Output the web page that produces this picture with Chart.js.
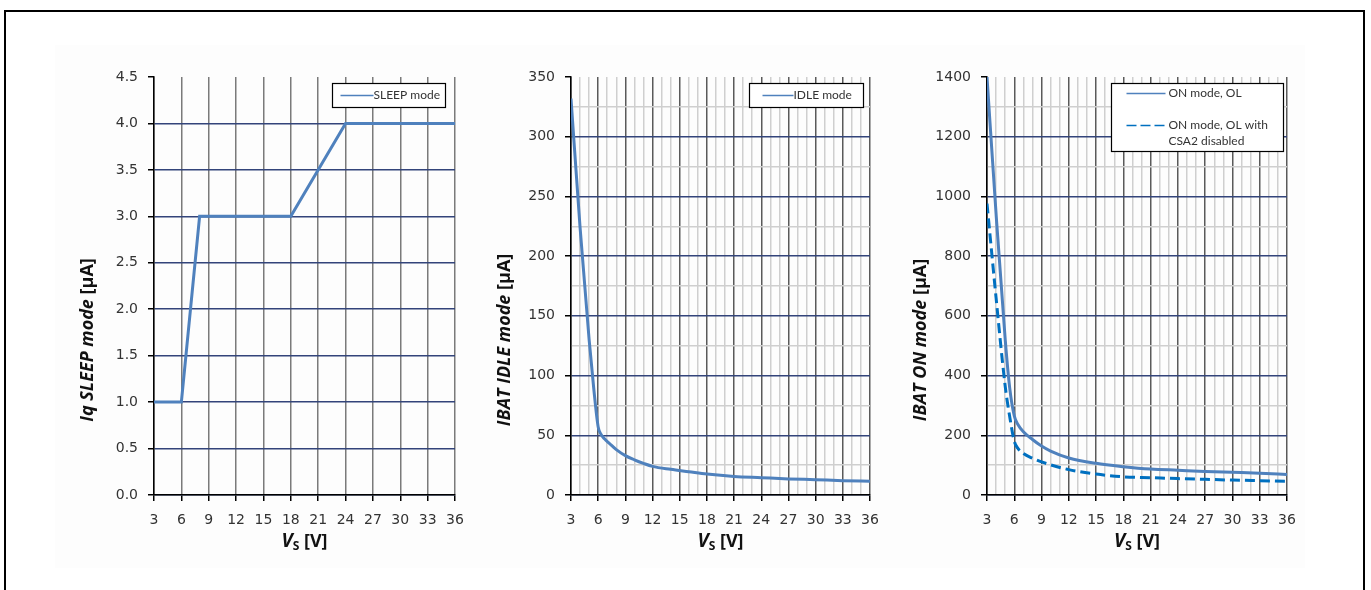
<!DOCTYPE html>
<html>
<head>
<meta charset="utf-8">
<script src="https://cdn.jsdelivr.net/npm/chart.js@4.4.1/dist/chart.umd.min.js"></script>
<style>
html, body { margin: 0; padding: 0; background: #fff; }
body { width: 1371px; height: 590px; position: relative; overflow: hidden; }
#frame { position: absolute; left: 4px; top: 10px; width: 1357px; height: 600px; border: 2px solid #000; }
#panel { position: absolute; left: 55px; top: 45px; width: 1250px; height: 523px; background: #fdfdfd; }
canvas { position: absolute; top: 40px; }
</style>
</head>
<body>
<div id="frame"></div>
<div id="panel"></div>
<canvas id="sleepChart" width="440" height="530" style="left:40px"></canvas>
<canvas id="idleChart" width="440" height="530" style="left:470px"></canvas>
<canvas id="onChart" width="440" height="530" style="left:900px"></canvas>
<script>
// supply voltage V_S [V] and currents
var sleepVs = [3, 6, 8, 18, 24, 36];
var sleepIq = [1.0, 1.0, 3.0, 3.0, 4.0, 4.0];

var idleVs = [3, 4, 5, 5.5, 6, 6.3, 6.7, 7.2, 8, 9, 10, 11, 12, 14, 16, 18, 21, 24, 27, 30, 33, 36];
var idleI  = [332, 224, 130, 90, 57, 51, 47, 43.5, 38, 33, 29.5, 26.5, 24, 21.5, 19.5, 17.5, 15.5, 14.5, 13.5, 12.8, 12, 11.5];

var onVs = [3, 4, 5, 5.5, 6, 6.4, 7, 8, 9, 10, 12, 15, 18, 21, 24, 27, 30, 33, 36];
var onI  = [1400, 941, 522, 358, 265, 236, 212, 186, 164, 147, 124, 106, 95, 87, 83, 79, 76, 73, 69];

var csaVs = [3, 4, 5, 5.5, 6, 6.4, 7, 8, 9, 10, 12, 15, 18, 21, 24, 27, 30, 33, 36];
var csaI  = [976, 660, 365, 262, 180, 156, 139, 123, 111, 101, 85, 70, 61, 58, 55, 52.5, 50, 48, 46];

function pts(xs, ys) {
    return xs.map(function (x, i) { return { x: x, y: ys[i] }; });
}

const TICK_FONT = { family: 'DejaVu Sans', size: 14 };
const TITLE_FAMILY = '"Open Sans"';

// axis titles drawn by hand: mixed italic / upright and a subscript
const titlesPlugin = {
    id: 'titles',
    afterDraw(chart, args, o) {
        const ctx = chart.ctx, a = chart.chartArea;
        function drawParts(parts) {
            let total = 0;
            parts.forEach(function (p) { ctx.font = p.font; total += ctx.measureText(p.t).width; });
            let x = -total / 2;
            parts.forEach(function (p) {
                ctx.font = p.font;
                ctx.fillText(p.t, x, p.dy || 0);
                x += ctx.measureText(p.t).width;
            });
        }
        ctx.save();
        ctx.fillStyle = '#111';
        ctx.textBaseline = 'middle';
        ctx.textAlign = 'left';
        ctx.save();
        ctx.translate(a.left - 66, a.top + 263);
        ctx.rotate(-Math.PI / 2);
        drawParts([
            { t: o.yText + ' ', font: 'italic bold 18px ' + TITLE_FAMILY },
            { t: '[µA]', font: 'bold 18px ' + TITLE_FAMILY }
        ]);
        ctx.restore();
        ctx.translate((a.left + a.right) / 2, a.bottom + 47);
        drawParts([
            { t: 'V', font: 'italic bold 19px ' + TITLE_FAMILY },
            { t: 'S', font: 'bold 12px ' + TITLE_FAMILY, dy: 5 },
            { t: ' [V]', font: 'bold 18px ' + TITLE_FAMILY }
        ]);
        ctx.restore();
    }
};

// boxed legend sitting inside the plot, top right
const boxLegend = {
    id: 'boxLegend',
    afterDraw(chart, args, o) {
        const ctx = chart.ctx, a = chart.chartArea;
        const x0 = Math.round(a.right - o.right - o.width) + 0.5;
        const y0 = Math.round(a.top + o.top) + 0.5;
        ctx.save();
        ctx.fillStyle = '#fff';
        ctx.fillRect(x0, y0, o.width, o.height);
        ctx.strokeStyle = '#000';
        ctx.lineWidth = 1.2;
        ctx.strokeRect(x0, y0, o.width, o.height);
        ctx.font = '12px Lato';
        ctx.textBaseline = 'middle';
        ctx.fillStyle = '#333';
        chart.data.datasets.forEach(function (ds, i) {
            const y = y0 + o.rows[i];
            ctx.strokeStyle = ds.borderColor;
            ctx.lineWidth = 1.5;
            ctx.setLineDash(ds.borderDash ? [10, 4] : []);
            ctx.beginPath();
            ctx.moveTo(x0 + o.lineStart, y);
            ctx.lineTo(x0 + o.lineEnd, y);
            ctx.stroke();
            ctx.setLineDash([]);
            // wrap label words to the box
            const words = ds.label.split(' ');
            let lines = [], cur = '';
            words.forEach(function (w) {
                const test = cur ? cur + ' ' + w : w;
                if (cur && ctx.measureText(test).width > o.wrap) { lines.push(cur); cur = w; }
                else cur = test;
            });
            lines.push(cur);
            lines.forEach(function (l, k) { ctx.fillText(l, x0 + o.textX, y + k * 16); });
        });
        ctx.restore();
    }
};

function makeChart(id, c) {
    const navy = '#33447a', minor = '#cfcfcf';
    return new Chart(document.getElementById(id).getContext('2d'), {
        type: 'line',
        data: { datasets: c.datasets },
        options: {
            responsive: false,
            animation: false,
            layout: { padding: c.padding },
            elements: { point: { radius: 0 }, line: { borderWidth: 3, borderCapStyle: 'butt' } },
            plugins: {
                legend: { display: false },
                tooltip: { enabled: false },
                titles: { yText: c.yText },
                boxLegend: c.legend
            },
            scales: {
                x: {
                    type: 'linear', min: 3, max: 36,
                    afterFit: function (s) { s.height = 40; },
                    border: { display: true, color: '#000', width: 1.5 },
                    grid: {
                        lineWidth: 1.5,
                        tickLength: 6,
                        color: function (ctx) { return ctx.tick.value % 3 === 0 ? c.xMajor : minor; },
                        tickColor: function (ctx) { return ctx.tick.value % 3 === 0 ? '#000' : 'rgba(0,0,0,0)'; }
                    },
                    ticks: {
                        stepSize: c.xStep, autoSkip: false, maxRotation: 0, padding: 11,
                        color: '#333', font: TICK_FONT,
                        callback: function (v) { return v % 3 === 0 ? String(v) : ''; }
                    }
                },
                y: {
                    min: 0, max: c.yMax,
                    afterFit: function (s) { s.width = 54; },
                    border: { display: true, color: '#000', width: 1.5 },
                    grid: {
                        lineWidth: 1.5,
                        tickLength: 6,
                        color: function (ctx) {
                            const v = ctx.tick.value;
                            if (v === c.yMax) return 'rgba(0,0,0,0)';
                            return Math.abs(v / c.yMajor - Math.round(v / c.yMajor)) < 1e-6 ? navy : minor;
                        },
                        tickColor: function (ctx) {
                            const v = ctx.tick.value;
                            return Math.abs(v / c.yMajor - Math.round(v / c.yMajor)) < 1e-6 ? '#000' : 'rgba(0,0,0,0)';
                        }
                    },
                    ticks: {
                        stepSize: c.yStep, autoSkip: false, padding: 10,
                        color: '#333', font: TICK_FONT,
                        callback: c.yFmt
                    }
                }
            }
        },
        plugins: [titlesPlugin, boxLegend]
    });
}

makeChart('sleepChart', {
    datasets: [{ label: 'SLEEP mode', data: pts(sleepVs, sleepIq), borderColor: '#4F81BD', tension: 0 }],
    padding: { left: 60, right: 25, top: 37, bottom: 35 },
    xStep: 3, xMajor: '#7a7a7a',
    yMax: 4.5, yStep: 0.5, yMajor: 0.5,
    yFmt: function (v) { return v.toFixed(1); },
    yText: 'Iq SLEEP mode',
    legend: { right: 10, top: 6, width: 113, height: 24, rows: [12], lineStart: 8, lineEnd: 41, textX: 41, wrap: 200 }
});

makeChart('idleChart', {
    datasets: [{ label: 'IDLE mode', data: pts(idleVs, idleI), borderColor: '#4F81BD', cubicInterpolationMode: 'monotone' }],
    padding: { left: 47, right: 40, top: 37, bottom: 35 },
    xStep: 1, xMajor: '#5a5a5a',
    yMax: 350, yStep: 25, yMajor: 50,
    yFmt: function (v) { return v % 50 === 0 ? String(v) : ''; },
    yText: 'IBAT IDLE mode',
    legend: { right: 7, top: 6, width: 114, height: 24, rows: [12], lineStart: 13, lineEnd: 44, textX: 44, wrap: 200 }
});

makeChart('onChart', {
    datasets: [
        { label: 'ON mode, OL', data: pts(onVs, onI), borderColor: '#4F81BD', cubicInterpolationMode: 'monotone' },
        { label: 'ON mode, OL with CSA2 disabled', data: pts(csaVs, csaI), borderColor: '#0070C0', borderDash: [10, 5], cubicInterpolationMode: 'monotone' }
    ],
    padding: { left: 33, right: 53, top: 37, bottom: 35 },
    xStep: 1, xMajor: '#5a5a5a',
    yMax: 1400, yStep: 100, yMajor: 200,
    yFmt: function (v) { return v % 200 === 0 ? String(v) : ''; },
    yText: 'IBAT ON mode',
    legend: { right: 4, top: 6, width: 172, height: 68, rows: [10, 42], lineStart: 15, lineEnd: 54, textX: 57, wrap: 112 }
});
</script>
</body>
</html>
